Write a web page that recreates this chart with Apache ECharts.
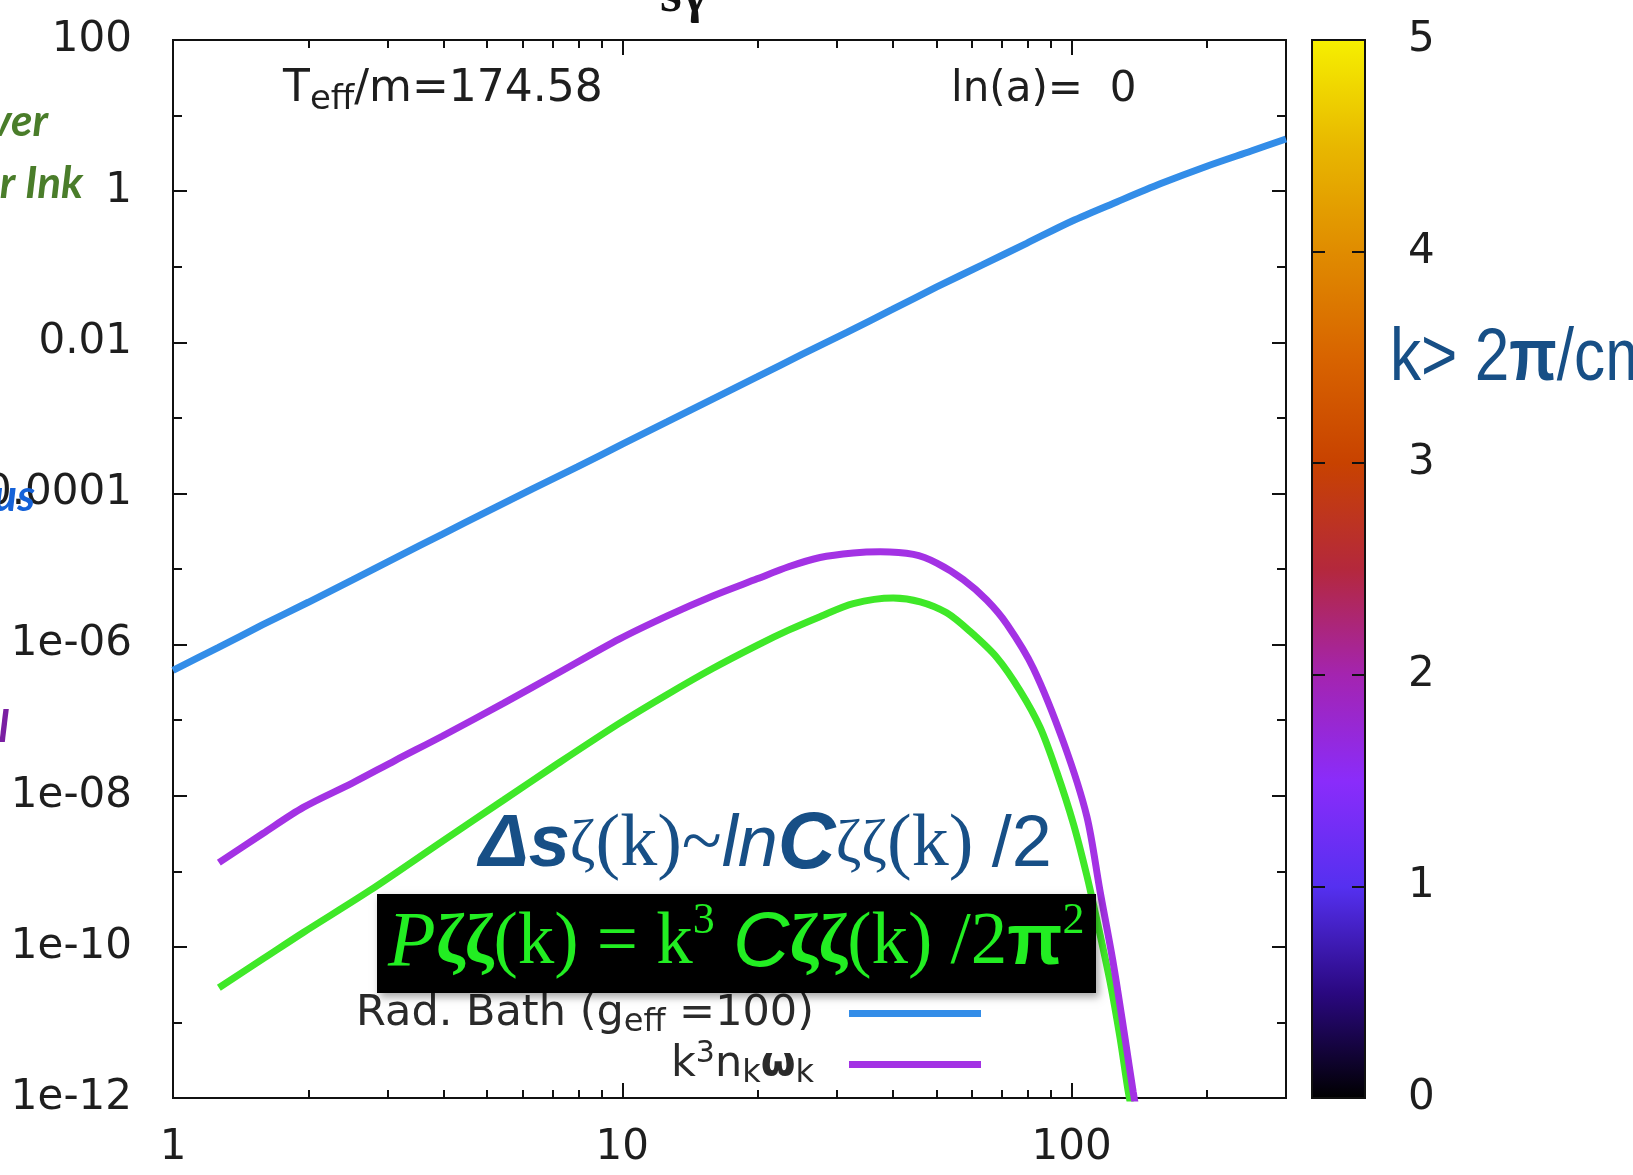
<!DOCTYPE html>
<html>
<head>
<meta charset="utf-8">
<script src="https://cdn.jsdelivr.net/npm/echarts@6.0.0/dist/echarts.min.js"></script>
<style>
  html, body { margin: 0; padding: 0; background: #fff; }
  #chart { width: 1633px; height: 1175px; }
</style>
</head>
<body>
<div id="chart"></div>
<script>
// values (k on x, spectra on y)
const kBath = [1, 1.26, 1.58, 2.0, 2.51, 3.16, 3.98, 5.01, 6.31, 7.94, 10, 12.6, 15.8, 20, 25.1, 31.6, 39.8, 50.1, 63.1, 79.4, 100, 126, 158, 200, 251, 300];
const bath = [4.57e-7, 9.1e-7, 1.82e-6, 3.63e-6, 7.2e-6, 1.45e-5, 2.9e-5, 5.8e-5, 1.15e-4, 2.24e-4, 4.5e-4, 8.9e-4, 1.74e-3, 3.5e-3, 6.9e-3, 0.0135, 0.027, 0.054, 0.105, 0.204, 0.40, 0.72, 1.26, 2.14, 3.4, 4.9];

const kNw = [1.265, 1.585, 1.95, 2.512, 3.119, 3.981, 5.433, 7.079, 9.863, 12.59, 15.85, 19.95, 23.44, 27.54, 32.66, 37.5, 44.46, 50.12, 57.41, 64.71, 71.78, 82.22, 95.94, 108.1, 115.6, 123.9, 131.5, 137.1, 140.6];
const nw = [1.30e-9, 3.16e-9, 7.0e-9, 1.48e-8, 2.92e-8, 6.17e-8, 1.67e-7, 3.98e-7, 1.19e-6, 2.40e-6, 4.37e-6, 7.41e-6, 1.07e-5, 1.42e-5, 1.63e-5, 1.69e-5, 1.56e-5, 1.20e-5, 7.24e-6, 3.89e-6, 1.86e-6, 4.84e-7, 5.08e-8, 5.33e-9, 5.60e-10, 5.89e-11, 6.17e-12, 1.20e-12, 5.0e-13];

const kZeta = [1.265, 1.585, 1.95, 2.748, 3.981, 5.433, 7.079, 9.863, 12.59, 15.85, 19.95, 23.44, 27.54, 32.66, 40.09, 46.03, 52.72, 59.43, 68.08, 76.74, 85.11, 92.68, 100.9, 108.1, 113.8, 121.9, 128.2, 133.7, 137.7];
const zeta = [2.88e-11, 6.92e-11, 1.55e-10, 5.62e-10, 2.51e-9, 8.71e-9, 2.51e-8, 9.12e-8, 2.19e-7, 4.79e-7, 9.77e-7, 1.55e-6, 2.34e-6, 3.48e-6, 4.12e-6, 3.68e-6, 2.63e-6, 1.49e-6, 6.79e-7, 2.46e-7, 7.98e-8, 2.06e-8, 4.26e-9, 8.79e-10, 2.27e-10, 3.34e-11, 6.17e-12, 1.20e-12, 5.0e-13];

// ticks
const xMajor = [1, 10, 100];
const xMinor = [2, 3, 4, 5, 6, 7, 8, 9, 20, 30, 40, 50, 60, 70, 80, 90, 200, 300];
const yLabelVals = [1e-12, 1e-10, 1e-8, 1e-6, 1e-4, 1e-2, 1, 100];
const yLabelText = ['1e-12', '1e-10', '1e-08', '1e-06', '0.0001', '0.01', '1', '100'];
const yMinor = [1e-11, 1e-9, 1e-7, 1e-5, 1e-3, 0.1, 10];
const cbLabels = [0, 1, 2, 3, 4, 5];
const cbTicks = [1, 2, 3, 4];
// palette from 0 (bottom) to 5 (top)
const cbColors = ['#000000', '#2a0880', '#5530f0', '#8a2cfa', '#a424b0', '#b4283c', '#c84200', '#d86400', '#e08c00', '#e8b800', '#f6f000'];

const seriesNames = ['Rad. Bath (geff=100)', 'k3nkwk'];
const legendText = {
  'Rad. Bath (geff=100)': '{n|Rad. Bath (g}{s|eff}{n| =100)}{g| }',
  'k3nkwk': '{n|k}{u|3}{n|n}{s|k}{w|ω}{s|k}{g| }'
};

const pairs = (xs, ys) => xs.map((x, i) => [x, ys[i]]);

const axisFont = { fontFamily: 'DejaVu Sans', fontSize: 42, color: '#1e1e1e' };
const tickLine = { color: '#111', width: 2 };

function logX(position, ticks, len, withLabels) {
  return {
    type: 'log', logBase: 10, gridIndex: 0, min: 1, max: 300, position: position,
    axisLine: { show: false, onZero: false },
    splitLine: { show: false },
    axisTick: { show: true, inside: true, length: len, customValues: ticks, lineStyle: tickLine },
    axisLabel: withLabels ? Object.assign({
      show: true, customValues: xMajor, margin: 29,
      formatter: v => String(Math.round(v))
    }, axisFont) : { show: false }
  };
}

function logY(position, ticks, len, withLabels) {
  return {
    type: 'log', logBase: 10, gridIndex: 0, min: 1e-12, max: 100, position: position,
    axisLine: { show: false, onZero: false },
    splitLine: { show: false },
    axisTick: { show: true, inside: true, length: len, customValues: ticks, lineStyle: tickLine },
    axisLabel: withLabels ? Object.assign({
      show: true, customValues: yLabelVals, margin: 41,
      formatter: v => {
        const i = yLabelVals.findIndex(t => Math.abs(Math.log10(v) - Math.log10(t)) < 1e-6);
        return i >= 0 ? yLabelText[i] : '';
      }
    }, axisFont) : { show: false }
  };
}

function cbAxis(position, withLabels) {
  return {
    type: 'value', gridIndex: 1, min: 0, max: 5, position: position,
    axisLine: { show: false, onZero: false }, splitLine: { show: false },
    axisTick: { show: true, inside: true, length: 13, customValues: cbTicks, lineStyle: tickLine },
    axisLabel: withLabels ? Object.assign({ show: true, customValues: cbLabels, margin: 43 }, axisFont) : { show: false }
  };
}

const cbGradient = {
  type: 'linear', x: 0, y: 0, x2: 0, y2: 1,
  colorStops: cbColors.map((c, i) => ({ offset: 1 - i / (cbColors.length - 1), color: c })).reverse()
};

const chart = echarts.init(document.getElementById('chart'));

const option = {
  animation: false,
  backgroundColor: '#fff',
  grid: [
    { left: 173, top: 40, width: 1113, height: 1058, show: true, borderColor: '#111', borderWidth: 2, backgroundColor: '#fff', outerBoundsMode: 'none' },
    { left: 1312, top: 40, width: 53, height: 1058, show: true, borderColor: '#111', borderWidth: 2, backgroundColor: cbGradient, outerBoundsMode: 'none' }
  ],
  xAxis: [
    logX('bottom', xMajor, 15, true),
    logX('bottom', xMinor, 8, false),
    logX('top', xMajor, 15, false),
    logX('top', xMinor, 8, false),
    { type: 'category', gridIndex: 1, data: ['c'], show: false }
  ],
  yAxis: [
    logY('left', yLabelVals, 14, true),
    logY('left', yMinor, 9, false),
    logY('right', yLabelVals, 14, false),
    logY('right', yMinor, 9, false),
    cbAxis('right', true),
    cbAxis('left', false)
  ],
  legend: {
    orient: 'vertical', align: 'right', right: 652, top: 992,
    itemWidth: 132, itemHeight: 7, itemGap: 1, icon: 'rect', padding: 0,
    selectedMode: false, data: seriesNames,
    formatter: name => legendText[name],
    textStyle: {
      rich: {
        n: { fontFamily: 'DejaVu Sans', fontSize: 43, color: '#2a2a2a', lineHeight: 50 },
        w: { fontFamily: 'DejaVu Sans', fontWeight: 'bold', fontSize: 40, color: '#2a2a2a' },
        s: { fontFamily: 'DejaVu Sans', fontSize: 32, color: '#2a2a2a', verticalAlign: 'bottom' },
        u: { fontFamily: 'DejaVu Sans', fontSize: 30, color: '#2a2a2a', verticalAlign: 'top' },
        g: { width: 30 }
      }
    }
  },
  series: [
    {
      name: 'zeta', type: 'line', xAxisIndex: 0, yAxisIndex: 0, data: pairs(kZeta, zeta),
      showSymbol: false, smooth: 0.3, color: '#3fe828', lineStyle: { width: 7, color: '#3fe828' }, z: 3
    },
    {
      name: seriesNames[1], type: 'line', xAxisIndex: 0, yAxisIndex: 0, data: pairs(kNw, nw),
      showSymbol: false, smooth: 0.3, color: '#a332e4', lineStyle: { width: 7, color: '#a332e4' }, z: 4
    },
    {
      name: seriesNames[0], type: 'line', xAxisIndex: 0, yAxisIndex: 0, data: pairs(kBath, bath),
      showSymbol: false, smooth: 0.3, color: '#338de8', lineStyle: { width: 7, color: '#338de8' }, z: 5
    }
  ],
  graphic: [
    // gnuplot labels
    {
      type: 'text', x: 283, y: 90, z: 50,
      style: {
        text: '{n|T}{s|eff}{n|/m=174.58}', verticalAlign: 'middle',
        rich: {
          n: { fontFamily: 'DejaVu Sans', fontSize: 44, fill: '#1e1e1e', lineHeight: 54 },
          s: { fontFamily: 'DejaVu Sans', fontSize: 34, fill: '#1e1e1e', verticalAlign: 'bottom' }
        }
      }
    },
    {
      type: 'text', x: 951, y: 90, z: 50,
      style: { text: 'ln(a)=  0', fontFamily: 'DejaVu Sans', fontSize: 42, fill: '#1e1e1e', verticalAlign: 'middle' }
    },
    {
      type: 'text', x: 684, y: -3, z: 50,
      style: { text: 'sγ', fontFamily: 'Liberation Serif', fontWeight: 'bold', fontSize: 56, fill: '#111', align: 'center', verticalAlign: 'middle' }
    },
    // slide overlays
    {
      type: 'text', x: 1390, y: 360, z: 50, scaleX: 0.84,
      style: {
        text: '{a|k> 2}{b|π}{a|/cm}', verticalAlign: 'middle',
        rich: {
          a: { fontFamily: 'Liberation Sans', fontSize: 74, fill: '#174f86' },
          b: { fontFamily: 'Liberation Sans', fontWeight: 'bold', fontSize: 74, fill: '#174f86' }
        }
      }
    },
    { type: 'text', x: 48, y: 122, z: 50, style: { text: 'ver', fontFamily: 'Lato', fontWeight: 'bold', fontStyle: 'italic', fontSize: 44, fill: '#4a7d2a', align: 'right', verticalAlign: 'middle' } },
    { type: 'text', x: 83, y: 184, z: 50, style: { text: 'r Ink', fontFamily: 'Lato', fontWeight: 'bold', fontStyle: 'italic', fontSize: 44, fill: '#4a7d2a', align: 'right', verticalAlign: 'middle' } },
    { type: 'text', x: 35, y: 497, z: 50, style: { text: 'us', fontFamily: 'Lato', fontWeight: 'bold', fontStyle: 'italic', fontSize: 44, fill: '#1562d8', align: 'right', verticalAlign: 'middle' } },
    { type: 'text', x: 9, y: 728, z: 50, style: { text: 'l', fontFamily: 'Lato', fontWeight: 'bold', fontStyle: 'italic', fontSize: 44, fill: '#7a1fa2', align: 'right', verticalAlign: 'middle' } },
    {
      type: 'text', x: 479, y: 846, z: 50,
      style: {
        text: '{D|Δs}{z|ζ}{p|(k)~}{l|ln}{C|C}{z|ζζ}{p|(k) }{t|/2}', verticalAlign: 'middle',
        rich: {
          D: { fontFamily: 'Liberation Sans', fontWeight: 'bold', fontStyle: 'italic', fontSize: 74, fill: '#174f86', lineHeight: 84 },
          z: { fontFamily: 'Liberation Serif', fontSize: 62, fill: '#174f86' },
          p: { fontFamily: 'Liberation Serif', fontSize: 74, fill: '#174f86' },
          l: { fontFamily: 'Liberation Sans', fontStyle: 'italic', fontSize: 72, fill: '#174f86' },
          C: { fontFamily: 'Liberation Sans', fontWeight: 'bold', fontStyle: 'italic', fontSize: 80, fill: '#174f86' },
          t: { fontFamily: 'Liberation Sans', fontSize: 72, fill: '#174f86' }
        }
      }
    },
    {
      type: 'rect', z: 60,
      shape: { x: 377, y: 894, width: 719, height: 99 },
      style: { fill: '#000', shadowBlur: 8, shadowColor: 'rgba(0,0,0,0.35)', shadowOffsetX: 3, shadowOffsetY: 4 }
    },
    {
      type: 'text', x: 388, y: 944, z: 61,
      style: {
        text: '{P|P}{z|ζζ}{a|(k) = k}{u|3}{a| }{C|C}{z|ζζ}{a|(k) /2}{pi|π}{u|2}', verticalAlign: 'middle',
        rich: {
          P: { fontFamily: 'Liberation Serif', fontStyle: 'italic', fontSize: 78, fill: '#22ee22', lineHeight: 90 },
          z: { fontFamily: 'Liberation Serif', fontWeight: 'bold', fontSize: 70, fill: '#22ee22' },
          a: { fontFamily: 'Liberation Serif', fontSize: 73, fill: '#22ee22' },
          u: { fontFamily: 'Liberation Serif', fontSize: 44, fill: '#22ee22', verticalAlign: 'top' },
          C: { fontFamily: 'Liberation Sans', fontStyle: 'italic', fontSize: 78, fill: '#22ee22' },
          pi: { fontFamily: 'Liberation Sans', fontWeight: 'bold', fontSize: 72, fill: '#22ee22' }
        }
      }
    }
  ]
};

chart.setOption(option);
</script>
</body>
</html>
